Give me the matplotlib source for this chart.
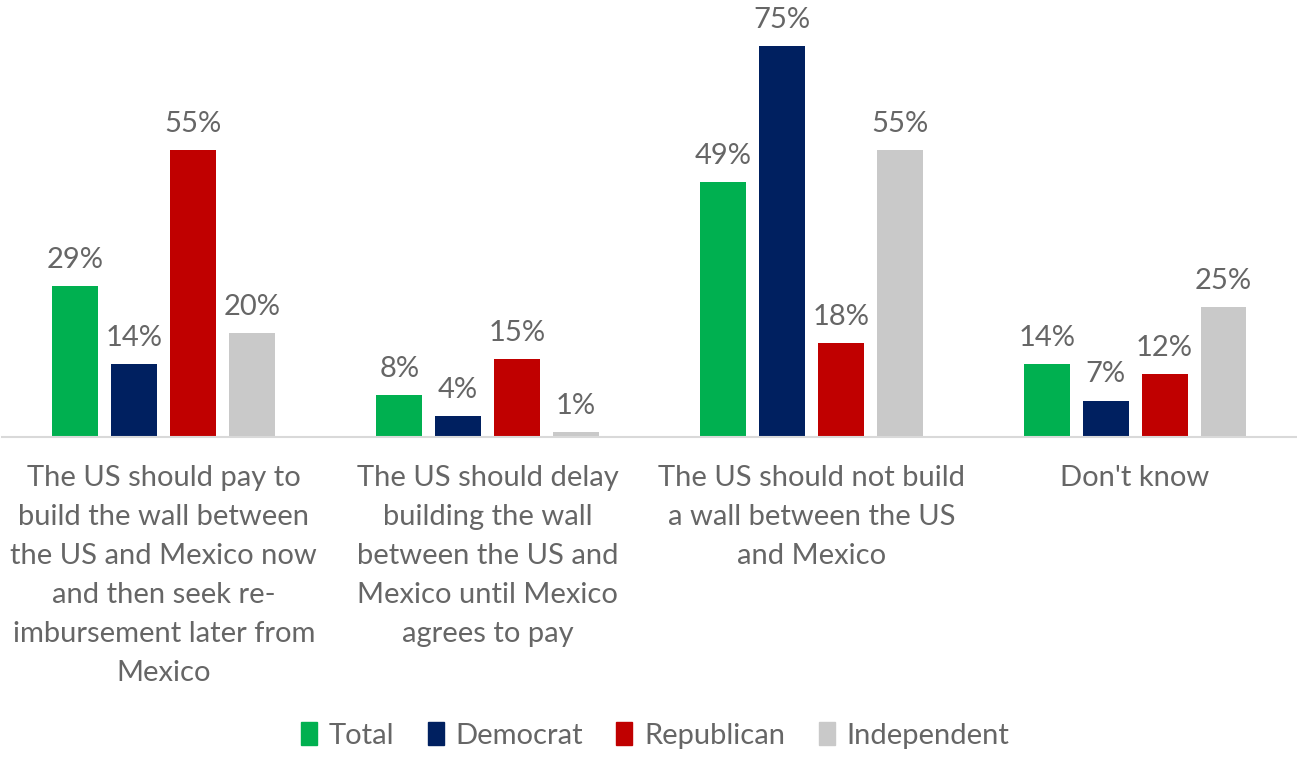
import numpy as np
import matplotlib.pyplot as plt
from matplotlib.patches import Patch

categories = [
    "The US should pay to\nbuild the wall between\nthe US and Mexico now\nand then seek re-\nimbursement later from\nMexico",
    "The US should delay\nbuilding the wall\nbetween the US and\nMexico until Mexico\nagrees to pay",
    "The US should not build\na wall between the US\nand Mexico",
    "Don't know",
]
series = ["Total", "Democrat", "Republican", "Independent"]
total = [29, 8, 49, 14]
democrat = [14, 4, 75, 7]
republican = [55, 15, 18, 12]
independent = [20, 1, 55, 25]
colors = ["#00B050", "#002060", "#C00000", "#C9C9C9"]

plt.rcParams['font.family'] = ['Lato', 'DejaVu Sans']
txt = "#666666"
fs = 21

fig = plt.figure(figsize=(12.97, 7.58), dpi=100)
ax = fig.add_axes([0.0015, 0.4235, 0.9985, 0.55])

x = np.arange(len(categories))
w = 0.142
step = 0.182
for i, (name, vals) in enumerate(zip(series, [total, democrat, republican, independent])):
    pos = x + (i - 1.5) * step
    ax.bar(pos, vals, w, color=colors[i], label=name)
    for p, v in zip(pos, vals):
        ax.text(p, v + 2.5, "%d%%" % v, ha='center', va='bottom', fontsize=fs, color=txt)

ax.set_xlim(-0.5, 3.5)
ax.set_ylim(0, 80)
ax.set_yticks([])
ax.set_xticks(x)
ax.set_xticklabels(categories, fontsize=fs, color=txt, linespacing=1.62)
ax.tick_params(axis='x', length=0, pad=20)
for s in ['top', 'right', 'left']:
    ax.spines[s].set_visible(False)
ax.spines['bottom'].set_color('#D9D9D9')
ax.spines['bottom'].set_linewidth(1.5)

handles = [Patch(color=c) for c in colors]
fig.legend(handles, series, loc='center', bbox_to_anchor=(0.505, 0.03), ncol=4, frameon=False,
           fontsize=fs, labelcolor=txt, handlelength=0.55, handleheight=0.85, handletextpad=0.4,
           columnspacing=1.15)

fig.savefig('out.png', dpi=100)
